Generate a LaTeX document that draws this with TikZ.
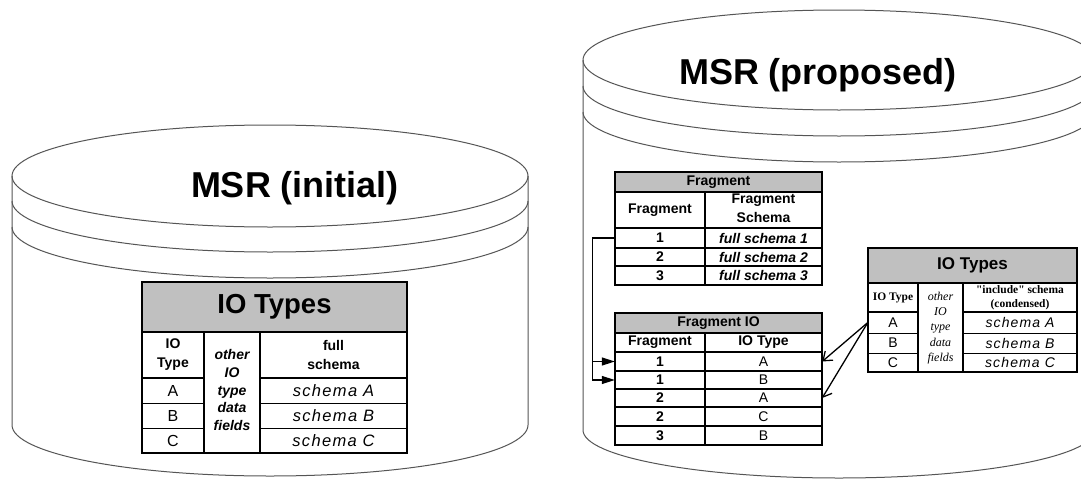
\documentclass[tikz,border=0pt]{standalone}
\usepackage{fontspec}
\setmainfont{Liberation Sans}
\newfontfamily\serifx{Liberation Serif}
\newfontfamily\spacedsans[LetterSpace=8]{Liberation Sans}
\usetikzlibrary{arrows.meta}
\definecolor{hdrgray}{RGB}{192,192,192}
\definecolor{cylline}{RGB}{85,85,85}
\tikzset{
  cyl/.style={draw=cylline, line width=1pt},
  tline/.style={draw=black, line width=2pt},
  mline/.style={draw=black, line width=1.4pt},
  rline/.style={draw=black, line width=0.9pt},
  hdr/.style={fill=hdrgray},
  cell/.style={inner sep=0pt, align=center},
  titletext/.style={font=\bfseries\fontsize{36}{40}\selectfont},
  barrow/.style={-{Triangle[length=13pt,width=8pt]}, line width=1.2pt},
  varrow/.style={-{Straight Barb[length=8pt,width=12pt]}, line width=1.3pt}
}
\begin{document}
\begin{tikzpicture}[x=1pt,y=-1pt]
\useasboundingbox (0,0) rectangle (1081,479);
\clip (0,0) rectangle (1081,479);
\fill[white] (0,0) rectangle (1081,479);

% ---------- left cylinder ----------
\draw[cyl] (12,176) -- (12,425) arc[start angle=180,end angle=0,x radius=258,y radius=51] -- (528,176);
\draw[cyl] (270,176) ellipse[x radius=258,y radius=51];
\draw[cyl] (12,201) arc[start angle=180,end angle=0,x radius=258,y radius=51];
\draw[cyl] (12,227) arc[start angle=180,end angle=0,x radius=258,y radius=51];
\node[titletext] (t1) at (295,188) {MSR (initial)};

% ---------- right cylinder ----------
\draw[cyl] (583,60) -- (583,430) arc[start angle=180,end angle=0,x radius=256,y radius=48] -- (1095,60);
\draw[cyl] (839,60) ellipse[x radius=256,y radius=50];
\draw[cyl] (583,86) arc[start angle=180,end angle=0,x radius=256,y radius=50];
\draw[cyl] (583,112) arc[start angle=180,end angle=0,x radius=256,y radius=50];
\node[titletext] (t2) at (818,75) {MSR (proposed)};

% ---------- left IO Types table ----------
\fill[hdr] (142,282) rectangle (407,332);
\draw[mline] (204,332) -- (204,453) (260,332) -- (260,453);
\draw[mline] (142,378) -- (204,378) (260,378) -- (407,378);
\draw[rline] (142,403) -- (204,403) (260,403) -- (407,403)
             (142,428) -- (204,428) (260,428) -- (407,428);
\draw[tline] (142,332) -- (407,332);
\draw[tline] (142,282) rectangle (407,453);
\node[cell, font=\bfseries\fontsize{27.5}{30}\selectfont] (lh) at (274.5,307) {IO Types};
\node[cell, font=\bfseries\fontsize{14}{19}\selectfont] (lc1) at (173,355) {IO\\Type};
\node[cell, font=\bfseries\itshape\fontsize{14}{17.7}\selectfont] (lc2) at (232,390) {other\\IO\\type\\data\\fields};
\node[cell, font=\bfseries\fontsize{14}{19}\selectfont] (lc3) at (333.5,355) {full\\schema};
\node[cell, font=\fontsize{16}{18}\selectfont] (la) at (173,390.5) {A};
\node[cell, font=\fontsize{16}{18}\selectfont] (lb) at (173,415.5) {B};
\node[cell, font=\fontsize{16}{18}\selectfont] (lcc) at (173,440.5) {C};
\node[cell, font=\spacedsans\itshape\fontsize{16.5}{18}\selectfont] (lsa) at (333.5,390.5) {schema A};
\node[cell, font=\spacedsans\itshape\fontsize{16.5}{18}\selectfont] (lsb) at (333.5,415.5) {schema B};
\node[cell, font=\spacedsans\itshape\fontsize{16.5}{18}\selectfont] (lsc) at (333.5,440.5) {schema C};

% ---------- Fragment table ----------
\fill[hdr] (615,172) rectangle (822,192);
\draw[mline] (705,192) -- (705,285);
\draw[mline] (615,228) -- (822,228) (615,248) -- (822,248) (615,266) -- (822,266);
\draw[tline] (615,192) -- (822,192);
\draw[tline] (615,172) rectangle (822,285);
\node[cell, font=\bfseries\fontsize{14}{15}\selectfont] (fh) at (718.5,182) {Fragment};
\node[cell, font=\bfseries\fontsize{14}{15}\selectfont] (fc1) at (660,210) {Fragment};
\node[cell, font=\bfseries\fontsize{14}{19}\selectfont] (fc2) at (763.5,208) {Fragment\\Schema};
\node[cell, minimum width=90pt, minimum height=20pt, font=\bfseries\fontsize{14}{15}\selectfont] (fr1) at (660,238) {1};
\node[cell, font=\bfseries\fontsize{14}{15}\selectfont] (fr2) at (660,257) {2};
\node[cell, font=\bfseries\fontsize{14}{15}\selectfont] (fr3) at (660,275.5) {3};
\node[cell, font=\bfseries\itshape\fontsize{14}{15}\selectfont] (fs1) at (763.5,238) {full schema 1};
\node[cell, font=\bfseries\itshape\fontsize{14}{15}\selectfont] (fs2) at (763.5,257) {full schema 2};
\node[cell, font=\bfseries\itshape\fontsize{14}{15}\selectfont] (fs3) at (763.5,275.5) {full schema 3};

% ---------- Fragment IO table ----------
\fill[hdr] (615,313) rectangle (822,333);
\draw[mline] (705,333) -- (705,445);
\draw[mline] (615,352) -- (822,352) (615,371) -- (822,371) (615,389) -- (822,389)
             (615,407) -- (822,407) (615,426) -- (822,426);
\draw[tline] (615,333) -- (822,333);
\draw[tline] (615,313) rectangle (822,445);
\node[cell, font=\bfseries\fontsize{14}{15}\selectfont] (gh) at (718.5,323) {Fragment IO};
\node[cell, font=\bfseries\fontsize{14}{15}\selectfont] (gc1) at (660,342.5) {Fragment};
\node[cell, font=\bfseries\fontsize{14}{15}\selectfont] (gc2) at (763.5,342.5) {IO Type};
\node[cell, minimum width=90pt, minimum height=19pt, font=\bfseries\fontsize{14}{15}\selectfont] (g1) at (660,361.5) {1};
\node[cell, minimum width=90pt, minimum height=18pt, font=\bfseries\fontsize{14}{15}\selectfont] (g2) at (660,380) {1};
\node[cell, font=\bfseries\fontsize{14}{15}\selectfont] (g3) at (660,398) {2};
\node[cell, font=\bfseries\fontsize{14}{15}\selectfont] (g4) at (660,416.5) {2};
\node[cell, font=\bfseries\fontsize{14}{15}\selectfont] (g5) at (660,435.5) {3};
\node[cell, minimum width=117pt, minimum height=19pt, font=\fontsize{14}{15}\selectfont] (h1) at (763.5,361.5) {A};
\node[cell, font=\fontsize{14}{15}\selectfont] (h2) at (763.5,380) {B};
\node[cell, minimum width=117pt, minimum height=18pt, font=\fontsize{14}{15}\selectfont] (h3) at (763.5,398) {A};
\node[cell, font=\fontsize{14}{15}\selectfont] (h4) at (763.5,416.5) {C};
\node[cell, font=\fontsize{14}{15}\selectfont] (h5) at (763.5,435.5) {B};

% ---------- right IO Types table ----------
\fill[hdr] (868,248) rectangle (1077,283);
\draw[mline] (918,283) -- (918,372) (963,283) -- (963,372);
\draw[rline] (868,333) -- (918,333) (963,333) -- (1077,333)
             (868,353) -- (918,353) (963,353) -- (1077,353);
\draw[tline] (868,283) rectangle (918,312);
\draw[tline] (963,283) rectangle (1077,312);
\draw[tline] (868,283) -- (1077,283);
\draw[tline] (868,248) rectangle (1077,372);
\node[cell, font=\bfseries\fontsize{17}{19}\selectfont] (rh) at (972.5,265.5) {IO Types};
\node[cell, font=\serifx\bfseries\fontsize{11.5}{13}\selectfont] (rc1) at (893,297.5) {IO Type};
\node[cell, font=\serifx\itshape\fontsize{12}{15.2}\selectfont] (rc2) at (940.5,328) {other\\IO\\type\\data\\fields};
\node[cell, font=\serifx\bfseries\fontsize{11.5}{14}\selectfont] (rc3) at (1020,298) {"include" schema\\(condensed)};
\node[cell, minimum width=50pt, minimum height=21pt, font=\fontsize{14}{16}\selectfont] (ra) at (893,322.5) {A};
\node[cell, font=\fontsize{14}{16}\selectfont] (rb) at (893,343) {B};
\node[cell, font=\fontsize{14}{16}\selectfont] (rcc) at (893,362.5) {C};
\node[cell, font=\spacedsans\itshape\fontsize{14}{16}\selectfont] (rsa) at (1020,322.5) {schema A};
\node[cell, font=\spacedsans\itshape\fontsize{14}{16}\selectfont] (rsb) at (1020,343) {schema B};
\node[cell, font=\spacedsans\itshape\fontsize{14}{16}\selectfont] (rsc) at (1020,362.5) {schema C};

% ---------- connectors ----------
\draw[barrow] (fr1.west) -- ++(-22,0) |- (g1.west);
\draw[barrow] (fr1.west) -- ++(-22,0) |- (g2.west);
\draw[varrow] (ra.west) -- (h1.east);
\draw[varrow] (ra.west) -- (h3.east);
\end{tikzpicture}
\end{document}
